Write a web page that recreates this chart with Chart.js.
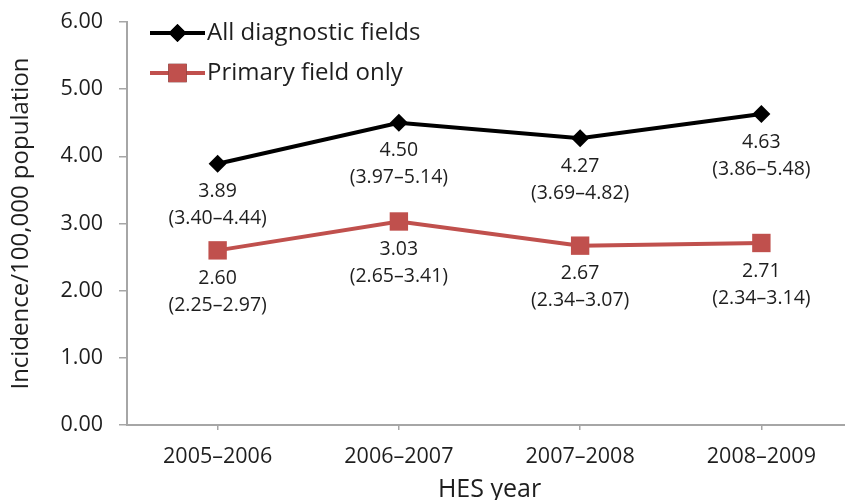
<!DOCTYPE html>
<html>
<head>
<meta charset="utf-8">
<script src="https://cdn.jsdelivr.net/npm/chart.js@4"></script>
<style>
  html, body { margin: 0; padding: 0; background: #fff; overflow: hidden; }
  #wrap { position: absolute; left: 0; top: 0; }
</style>
</head>
<body>
<div id="wrap"><canvas id="chart" width="852" height="510"></canvas></div>
<script>
// データ
const years = ['2005–2006', '2006–2007', '2007–2008', '2008–2009'];
const allFields = [3.89, 4.50, 4.27, 4.63];
const allLow = [3.40, 3.97, 3.69, 3.86];
const allHigh = [4.44, 5.14, 4.82, 5.48];
const primaryOnly = [2.60, 3.03, 2.67, 2.71];
const primaryLow = [2.25, 2.65, 2.34, 2.34];
const primaryHigh = [2.97, 3.41, 3.07, 3.14];
const seriesNames = ['All diagnostic fields', 'Primary field only'];

const FONT = '"Open Sans", "Noto Sans", sans-serif';
const TEXT = '#1e1e1e';
const AXIS = '#a6a6a6';

// 点の下に値と信頼区間を描く
const pointLabels = {
    id: 'pointLabels',
    afterDatasetsDraw(chart) {
        const ctx = chart.ctx;
        const ci = [[allLow, allHigh], [primaryLow, primaryHigh]];
        ctx.save();
        ctx.fillStyle = TEXT;
        ctx.font = '19.5px ' + FONT;
        ctx.textAlign = 'center';
        ctx.textBaseline = 'middle';
        chart.data.datasets.forEach((ds, d) => {
            chart.getDatasetMeta(d).data.forEach((pt, i) => {
                ctx.fillText(ds.data[i].toFixed(2), pt.x, pt.y + 28);
                ctx.fillText('(' + ci[d][0][i].toFixed(2) + '–' + ci[d][1][i].toFixed(2) + ')', pt.x, pt.y + 55);
            });
        });
        ctx.restore();
    }
};

// 凡例（線＋マーカー）
const lineLegend = {
    id: 'lineLegend',
    afterDraw(chart) {
        const ctx = chart.ctx;
        const x0 = 150, x1 = 205;
        const rows = [33, 73];
        ctx.save();
        chart.data.datasets.forEach((ds, d) => {
            const y = rows[d];
            ctx.strokeStyle = ds.borderColor;
            ctx.lineWidth = ds.borderWidth;
            ctx.beginPath();
            ctx.moveTo(x0, y);
            ctx.lineTo(x1, y);
            ctx.stroke();
            Chart.helpers.drawPoint(ctx, {
                pointStyle: ds.pointStyle,
                radius: ds.pointRadius,
                rotation: 0,
                borderWidth: 0
            }, (x0 + x1) / 2, y);
            ctx.fillStyle = ds.pointBackgroundColor;
            ctx.fill();
            ctx.fillStyle = TEXT;
            ctx.font = '24px ' + FONT;
            ctx.textAlign = 'left';
            ctx.textBaseline = 'middle';
            ctx.fillText(ds.label, x1 + 2, y);
        });
        ctx.restore();
    }
};

new Chart(document.getElementById('chart'), {
    type: 'line',
    data: {
        labels: years,
        datasets: [
            {
                label: seriesNames[0],
                data: allFields,
                borderColor: '#000000',
                backgroundColor: '#000000',
                pointBackgroundColor: '#000000',
                pointBorderColor: '#000000',
                borderWidth: 4,
                pointStyle: 'rectRot',
                pointRadius: 9,
                pointBorderWidth: 0,
                tension: 0
            },
            {
                label: seriesNames[1],
                data: primaryOnly,
                borderColor: '#c0504d',
                backgroundColor: '#c0504d',
                pointBackgroundColor: '#c0504d',
                pointBorderColor: '#c0504d',
                borderWidth: 4,
                pointStyle: 'rect',
                pointRadius: 13,
                pointBorderWidth: 0,
                tension: 0
            }
        ]
    },
    options: {
        responsive: false,
        animation: false,
        layout: { autoPadding: false, padding: { top: 22, right: 0, bottom: 0, left: 0 } },
        plugins: {
            legend: { display: false },
            tooltip: { enabled: false }
        },
        scales: {
            x: {
                offset: true,
                afterFit: s => { s.height = 85; s.paddingLeft = 0; s.paddingRight = 0; },
                border: { color: AXIS, width: 2 },
                grid: { offset: false, drawOnChartArea: false, drawTicks: true, tickLength: 5, color: AXIS, lineWidth: 1.5 },
                ticks: { color: TEXT, font: { family: FONT, size: 21.5 }, padding: 14, maxRotation: 0 },
                title: { display: true, text: 'HES year', color: TEXT, font: { family: FONT, size: 25 }, padding: { top: 0, bottom: 5 } }
            },
            y: {
                min: 0,
                max: 6,
                afterFit: s => { s.width = 127; s.paddingTop = 0; s.paddingBottom = 0; },
                border: { color: AXIS, width: 2 },
                grid: { drawOnChartArea: false, drawTicks: true, tickLength: 8, color: AXIS, lineWidth: 1.5 },
                ticks: { stepSize: 1, color: TEXT, font: { family: FONT, size: 21.5 }, padding: 16, callback: v => v.toFixed(2) },
                title: { display: true, text: 'Incidence/100,000 population', color: TEXT, font: { family: FONT, size: 24 }, padding: { top: 7, bottom: 0 } }
            }
        }
    },
    plugins: [pointLabels, lineLegend]
});
</script>
</body>
</html>
